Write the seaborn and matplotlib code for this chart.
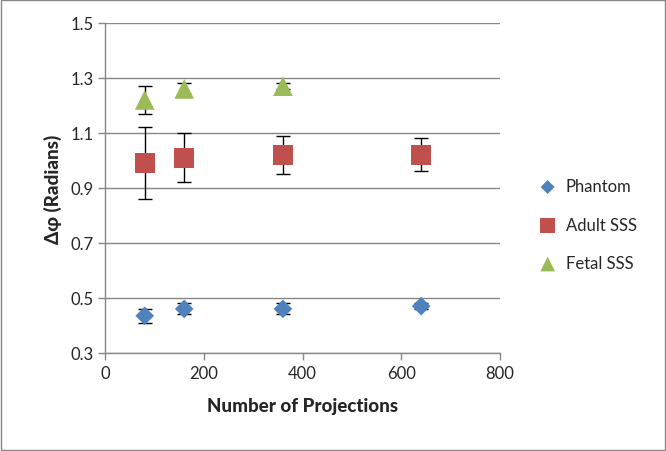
import pandas as pd
import seaborn as sns
import matplotlib.pyplot as plt
from matplotlib.patches import Rectangle

# Data
projections = [80, 160, 360, 640]
phantom = [0.435, 0.46, 0.46, 0.47]
phantom_err = [0.025, 0.02, 0.02, 0.01]
adult = [0.99, 1.01, 1.02, 1.02]
adult_err = [0.13, 0.09, 0.07, 0.06]
fetal_x = [80, 160, 360]
fetal = [1.22, 1.26, 1.27]
fetal_err = [0.05, 0.02, 0.01]

series = ["Phantom", "Adult SSS", "Fetal SSS"]
colors = {"Phantom": "#4F81BD", "Adult SSS": "#C0504D", "Fetal SSS": "#9BBB59"}
markers = {"Phantom": "D", "Adult SSS": "s", "Fetal SSS": "^"}
sizes = {"Phantom": 90, "Adult SSS": 200, "Fetal SSS": 200}

df = pd.concat([
    pd.DataFrame({"x": projections, "y": phantom, "err": phantom_err, "series": "Phantom"}),
    pd.DataFrame({"x": projections, "y": adult, "err": adult_err, "series": "Adult SSS"}),
    pd.DataFrame({"x": fetal_x, "y": fetal, "err": fetal_err, "series": "Fetal SSS"}),
], ignore_index=True)

sns.set_style("white")
plt.rcParams["font.family"] = ["Lato", "DejaVu Sans"]

fig = plt.figure(figsize=(6.66, 4.52), dpi=100)
ax = fig.add_axes([0.158, 0.217, 0.593, 0.730])

# error bars first so markers sit on top
for name in series:
    sub = df[df["series"] == name]
    ax.errorbar(sub["x"], sub["y"], yerr=sub["err"], fmt="none", ecolor="black",
                elinewidth=1, capsize=5, capthick=1, zorder=2)

for name in series:
    sub = df[df["series"] == name]
    sns.scatterplot(data=sub, x="x", y="y", marker=markers[name], color=colors[name],
                    s=sizes[name], edgecolor="none", label=name, ax=ax, zorder=3)

ax.set_xlim(0, 800)
ax.set_ylim(0.3, 1.5)
ax.set_xticks([0, 200, 400, 600, 800])
ax.set_yticks([0.3, 0.5, 0.7, 0.9, 1.1, 1.3, 1.5])
ax.set_yticklabels(["0.3", "0.5", "0.7", "0.9", "1.1", "1.3", "1.5"])
ax.yaxis.grid(True, color="#878787", linewidth=1)
ax.set_axisbelow(True)
for s in ["top", "right"]:
    ax.spines[s].set_visible(False)
for s in ["left", "bottom"]:
    ax.spines[s].set_color("#878787")
    ax.spines[s].set_linewidth(1)
ax.tick_params(axis="both", direction="out", length=5, color="#878787",
               labelsize=12, width=1, left=True, bottom=True)
ax.set_xlabel("Number of Projections", fontsize=13.5, fontweight="black", labelpad=12)
ax.set_ylabel("Δφ (Radians)", fontsize=13.5, fontweight="black", labelpad=6)

ax.legend(loc="center left", bbox_to_anchor=(1.04, 0.388), frameon=False,
          fontsize=12, labelspacing=1.35, handletextpad=0.1, markerscale=0.75)

fig.patches.append(Rectangle((0.002, 0.002), 0.996, 0.996, transform=fig.transFigure,
                             fill=False, edgecolor="#878787", linewidth=1))

fig.savefig("out.png", dpi=100)
